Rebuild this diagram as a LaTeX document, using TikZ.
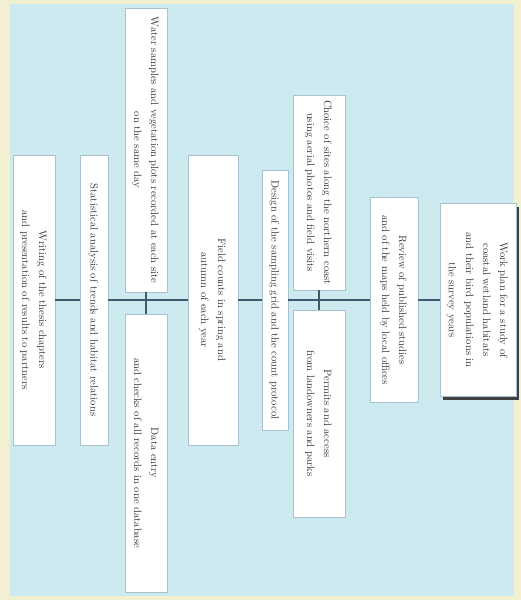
\documentclass[tikz,border=0pt]{standalone}
\usepackage{tikz}
\usetikzlibrary{shadows,positioning}

\definecolor{bgcyan}{HTML}{CDEAF0}
\definecolor{framecream}{HTML}{F3F0D2}
\definecolor{boxline}{HTML}{A8C3CE}
\definecolor{linkline}{HTML}{3E5A6D}
\definecolor{textgray}{HTML}{383838}

% text set sideways, read from top to bottom
\newcommand{\vlines}[1]{\rotatebox{-90}{\begin{tabular}{@{}c@{}}#1\end{tabular}}}

\begin{document}
\begin{tikzpicture}[
  box/.style={rectangle, draw=boxline, fill=white, line width=0.6pt, inner sep=0pt, text=textgray, font=\fontsize{10.6}{17}\selectfont},
  rootbox/.style={box, drop shadow={shadow xshift=3pt, shadow yshift=-3pt, fill=black!75, opacity=1}},
  link/.style={draw=linkline, line width=1.5pt}
]
  \useasboundingbox (0,0) rectangle (18.235,-21);
  \fill[framecream] (0,0) rectangle (18.235,-21);
  \fill[bgcyan] (0.35,-0.15) rectangle (18.0,-20.85);

  \node[rootbox, minimum width=2.66cm, minimum height=6.755cm] (root) at (16.73,-10.5)
    {\vlines{Work plan for a study of \\ coastal wetland habitats \\ and their bird populations in \\ the survey years}};
  \node[box, minimum width=1.68cm, minimum height=7.175cm] (review) at (13.79,-10.5)
    {\vlines{Review of published studies \\ and of the maps held by local offices}};
  \node[box, minimum width=1.82cm, minimum height=6.825cm] (sites) at (11.165,-6.74)
    {\vlines{Choice of sites along the northern coast \\ using aerial photos and field visits}};
  \node[box, minimum width=1.82cm, minimum height=7.245cm] (permits) at (11.165,-14.47)
    {\vlines{Permits and access \\ from landowners and parks}};
  \node[box, minimum width=0.91cm, minimum height=9.1cm] (design) at (9.625,-10.5)
    {\vlines{Design of the sampling grid and the count protocol}};
  \node[box, minimum width=1.75cm, minimum height=10.15cm] (counts) at (7.455,-10.5)
    {\vlines{Field counts in spring and \\ autumn of each year}};
  \node[box, minimum width=1.47cm, minimum height=9.94cm] (samples) at (5.11,-5.25)
    {\vlines{Water samples and vegetation plots recorded at each site \\ on the same day}};
  \node[box, minimum width=1.47cm, minimum height=9.73cm] (entry) at (5.11,-15.86)
    {\vlines{Data entry \\ and checks of all records in one database}};
  \node[box, minimum width=0.98cm, minimum height=10.15cm] (analysis) at (3.29,-10.5)
    {\vlines{Statistical analysis of trends and habitat relations}};
  \node[box, minimum width=1.47cm, minimum height=10.15cm] (writing) at (1.19,-10.5)
    {\vlines{Writing of the thesis chapters \\ and presentation of results to partners}};

  \coordinate (jfield) at (samples.south |- analysis);
  \coordinate (jsite) at (sites.south |- design);

  \draw[link] (samples) -- (entry);
  \draw[link] (sites) -- (permits);
  \draw[link] (writing) -- (analysis);
  \draw[link] (analysis) -- (jfield) -- (counts);
  \draw[link] (counts) -- (design);
  \draw[link] (design) -- (jsite) -- (review);
  \draw[link] (review) -- (root);
\end{tikzpicture}
\end{document}
